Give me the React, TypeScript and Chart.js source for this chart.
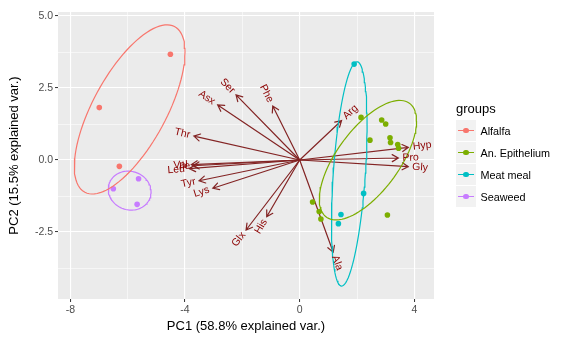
import React, { useEffect, useRef } from "react";
import { Chart, registerables } from "chart.js";

Chart.register(...registerables);

// ---- data ----
const groupNames = ["Alfalfa", "An. Epithelium", "Meat meal", "Seaweed"];
const groupColors = ["#F8766D", "#7CAE00", "#00BFC4", "#C77CFF"];

const alfalfaX = [-4.51, -6.99, -6.29];
const alfalfaY = [3.67, 1.82, -0.22];
const epitheliumX = [2.14, 2.86, 3.0, 2.45, 3.15, 3.17, 3.42, 3.45, 0.45, 0.68, 0.74, 3.06];
const epitheliumY = [1.48, 1.39, 1.25, 0.69, 0.77, 0.61, 0.54, 0.41, -1.46, -1.79, -2.05, -1.91];
const meatMealX = [1.9, 2.23, 1.44, 1.35];
const meatMealY = [3.33, -1.16, -1.89, -2.21];
const seaweedX = [-5.62, -6.5, -5.67];
const seaweedY = [-0.65, -1.0, -1.54];

const varNames = ["Ser", "Asx", "Phe", "Thr", "Val", "Ile", "Leu", "Tyr", "Lys", "Glx", "His", "Ala", "Arg", "Hyp", "Pro", "Gly"];
const varX = [-2.22, -2.86, -0.94, -3.69, -3.78, -3.72, -3.85, -3.51, -3.03, -1.87, -1.15, 1.17, 1.46, 3.79, 3.44, 3.79];
const varY = [2.26, 1.91, 1.875, 0.83, -0.16, -0.2, -0.3, -0.72, -0.98, -2.43, -1.97, -3.2, 1.37, 0.44, 0.07, -0.23];

const xTicks = [-8, -6, -4, -2, 0, 2, 4];
const xMajor = [-8, -4, 0, 4];
const yTicks = [-3.75, -2.5, -1.25, 0, 1.25, 2.5, 3.75, 5];
const yMajor = [-2.5, 0, 2.5, 5];

const xTitle = "PC1 (58.8% explained var.)";
const yTitle = "PC2 (15.5% explained var.)";
const legendTitle = "groups";

const ELLIPSE_PROB = 0.68;

function ellipsePoints(xs: number[], ys: number[]) {
  const n = xs.length;
  const mx = xs.reduce((a, b) => a + b, 0) / n;
  const my = ys.reduce((a, b) => a + b, 0) / n;
  let sxx = 0, syy = 0, sxy = 0;
  for (let i = 0; i < n; i++) {
    sxx += (xs[i] - mx) ** 2;
    syy += (ys[i] - my) ** 2;
    sxy += (xs[i] - mx) * (ys[i] - my);
  }
  sxx /= n - 1; syy /= n - 1; sxy /= n - 1;
  const a = Math.sqrt(sxx);
  const b = sxy / a;
  const c = Math.sqrt(Math.max(syy - b * b, 0));
  const ed = Math.sqrt(-2 * Math.log(1 - ELLIPSE_PROB));
  const pts: { x: number; y: number }[] = [];
  for (let i = 0; i <= 100; i++) {
    const t = (i / 100) * 2 * Math.PI;
    const ct = Math.cos(t), st = Math.sin(t);
    pts.push({ x: mx + ed * a * ct, y: my + ed * (b * ct + c * st) });
  }
  return pts;
}

const FONT = "'Liberation Sans', Arial, sans-serif";

const panelPlugin = {
  id: "panel",
  beforeDraw(chart: any) {
    const { ctx, chartArea } = chart;
    ctx.save();
    ctx.fillStyle = "#EBEBEB";
    ctx.fillRect(chartArea.left, chartArea.top, chartArea.right - chartArea.left, chartArea.bottom - chartArea.top);
    ctx.restore();
  },
  beforeDatasetsDraw(chart: any) {
    const { ctx } = chart;
    const xs = chart.scales.x, ys = chart.scales.y;
    const ox = xs.getPixelForValue(0), oy = ys.getPixelForValue(0);
    ctx.save();
    ctx.strokeStyle = "#832424";
    ctx.lineWidth = 1.2;
    ctx.lineCap = "round";
    for (let i = 0; i < varNames.length; i++) {
      const tx = xs.getPixelForValue(varX[i]);
      const ty = ys.getPixelForValue(varY[i]);
      const ang = Math.atan2(ty - oy, tx - ox);
      ctx.beginPath();
      ctx.moveTo(ox, oy);
      ctx.lineTo(tx, ty);
      const L = 7, h = Math.PI / 6;
      ctx.moveTo(tx - L * Math.cos(ang - h), ty - L * Math.sin(ang - h));
      ctx.lineTo(tx, ty);
      ctx.lineTo(tx - L * Math.cos(ang + h), ty - L * Math.sin(ang + h));
      ctx.stroke();
    }
    ctx.restore();
  },
  afterDatasetsDraw(chart: any) {
    const { ctx } = chart;
    const xs = chart.scales.x, ys = chart.scales.y;
    ctx.save();
    ctx.fillStyle = "#8B0000";
    ctx.font = `10.5px ${FONT}`;
    ctx.textBaseline = "middle";
    for (let i = 0; i < varNames.length; i++) {
      const tx = xs.getPixelForValue(varX[i]);
      const ty = ys.getPixelForValue(varY[i]);
      const angle = Math.atan(varY[i] / varX[i]);
      const w = ctx.measureText(varNames[i]).width;
      ctx.save();
      ctx.translate(tx, ty);
      ctx.rotate(-angle);
      if (varX[i] > 0) {
        ctx.textAlign = "left";
        ctx.fillText(varNames[i], 0.25 * w, 0);
      } else {
        ctx.textAlign = "right";
        ctx.fillText(varNames[i], -0.25 * w, 0);
      }
      ctx.restore();
    }
    ctx.restore();
  },
};

export default function App() {
  const ref = useRef<HTMLCanvasElement>(null);

  useEffect(() => {
    if (!ref.current) return;
    const groupXs = [alfalfaX, epitheliumX, meatMealX, seaweedX];
    const groupYs = [alfalfaY, epitheliumY, meatMealY, seaweedY];
    const datasets: any[] = [];
    groupNames.forEach((name, g) => {
      datasets.push({
        type: "scatter",
        label: name,
        data: groupXs[g].map((x, i) => ({ x, y: groupYs[g][i] })),
        backgroundColor: groupColors[g],
        borderColor: groupColors[g],
        pointRadius: 2.8,
        pointBorderWidth: 0,
        order: 2,
      });
    });
    groupNames.forEach((name, g) => {
      datasets.push({
        type: "line",
        label: name + " ellipse",
        data: ellipsePoints(groupXs[g], groupYs[g]),
        borderColor: groupColors[g],
        borderWidth: 1.2,
        pointRadius: 0,
        fill: false,
        tension: 0,
        order: 1,
      });
    });

    const chart = new Chart(ref.current, {
      type: "scatter",
      data: { datasets },
      plugins: [panelPlugin],
      options: {
        animation: false,
        responsive: false,
        events: [],
        layout: { padding: { left: 0, right: 128, top: 12, bottom: 0 } },
        plugins: { legend: { display: false }, tooltip: { enabled: false } },
        scales: {
          x: {
            type: "linear",
            min: -8.43,
            max: 4.685,
            afterBuildTicks: (s: any) => { s.ticks = xTicks.map((v) => ({ value: v })); },
            afterFit: (s: any) => { s.height = 42; },
            border: { display: false },
            grid: {
              color: "#FFFFFF",
              lineWidth: (c: any) => (xMajor.includes(c.tick?.value) ? 1.1 : 0.55),
              tickColor: (c: any) => (xMajor.includes(c.tick?.value) ? "#333333" : "rgba(0,0,0,0)"),
              tickLength: 3,
              tickWidth: 1,
            },
            ticks: {
              autoSkip: false,
              maxRotation: 0,
              padding: 2,
              color: "#4D4D4D",
              font: { family: FONT, size: 10.5 },
              callback: (v: any) => (xMajor.includes(v) ? String(v) : ""),
            },
            title: {
              display: true,
              text: xTitle,
              color: "#000000",
              font: { family: FONT, size: 13 },
              padding: { top: 0, bottom: 7 },
            },
          },
          y: {
            type: "linear",
            min: -4.826,
            max: 5.139,
            afterBuildTicks: (s: any) => { s.ticks = yTicks.map((v) => ({ value: v })); },
            afterFit: (s: any) => { s.width = 58; },
            border: { display: false },
            grid: {
              color: "#FFFFFF",
              lineWidth: (c: any) => (yMajor.includes(c.tick?.value) ? 1.1 : 0.55),
              tickColor: (c: any) => (yMajor.includes(c.tick?.value) ? "#333333" : "rgba(0,0,0,0)"),
              tickLength: 3,
              tickWidth: 1,
            },
            ticks: {
              autoSkip: false,
              padding: 2,
              color: "#4D4D4D",
              font: { family: FONT, size: 10.5 },
              callback: (v: any) => (yMajor.includes(v) ? Number(v).toFixed(1) : ""),
            },
            title: {
              display: true,
              text: yTitle,
              color: "#000000",
              font: { family: FONT, size: 13 },
              padding: { top: 7, bottom: 0 },
            },
          },
        },
      } as any,
    });
    return () => chart.destroy();
  }, []);

  return (
    <div style={{ position: "fixed", left: 0, top: 0, width: 562, height: 341, background: "#FFFFFF" }}>
      <canvas ref={ref} width={562} height={341} style={{ width: 562, height: 341, display: "block" }} />
      <div style={{ position: "absolute", left: 456, top: 101, fontFamily: FONT, fontSize: 13, color: "#000", lineHeight: "15px" }}>
        {legendTitle}
      </div>
      {groupNames.map((name, g) => (
        <div key={name} style={{ position: "absolute", left: 456, top: 120 + g * 22, height: 21, display: "flex", alignItems: "center" }}>
          <div style={{ position: "relative", width: 20, height: 21, background: "#F2F2F2" }}>
            <div style={{ position: "absolute", left: 2, right: 2, top: 10, height: 1.2, background: groupColors[g] }} />
            <div style={{ position: "absolute", left: 7.2, top: 7.7, width: 5.6, height: 5.6, borderRadius: "50%", background: groupColors[g] }} />
          </div>
          <div style={{ marginLeft: 4.5, fontFamily: FONT, fontSize: 10.8, color: "#000", whiteSpace: "nowrap" }}>{name}</div>
        </div>
      ))}
    </div>
  );
}
